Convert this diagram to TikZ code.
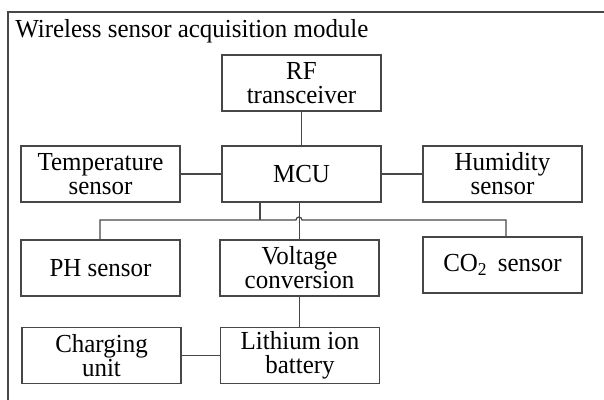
\documentclass[tikz,border=0pt]{standalone}
\usepackage{fontspec}
\setmainfont{Liberation Serif}[FakeStretch=0.96]
\begin{document}
\begin{tikzpicture}[x=0.75pt,y=-0.75pt,
  every node/.style={font=\fontsize{19.5}{18}\selectfont, text=black},
  box/.style={draw=black!72, line width=0.9pt, rectangle, minimum width=159*0.75pt, minimum height=56*0.75pt, align=center, inner sep=0pt},
  wire/.style={draw=black!72, line width=0.9pt}]
\useasboundingbox (0,0) rectangle (604,400);
% outer frame (cut at right and bottom)
\draw[wire] (8,400) -- (8,12) -- (604,12);
\node[anchor=base west, inner sep=0pt] (title) at (15,37.5) {Wireless sensor acquisition module};
% boxes
\node[box] (rf) at (301.5,83) {RF\\transceiver};
\node[box] (temp) at (100.5,174) {Temperature\\sensor};
\node[box] (mcu) at (301.5,174) {MCU};
\node[box] (hum) at (502.5,174) {Humidity\\sensor};
\node[box] (ph) at (100.5,268) {PH sensor};
\node[box] (volt) at (299.5,268) {Voltage\\conversion};
\node[box] (co2) at (502.5,265) {CO\textsubscript{2}\ \,sensor};
\node[box] (chg) at (101.5,355.5) {Charging\\unit};
\node[box] (li) at (300,355.5) {Lithium ion\\battery};
% junction coordinates
\coordinate (busL) at (100,220);
\coordinate (busR) at (506,220);
\coordinate (stub) at (260,220);
\coordinate (hopL) at (296,220);
% connectors
\draw[wire] (rf.south) -- (mcu.north);
\draw[wire] (temp.east) -- (mcu.west);
\draw[wire] (mcu.east) -- (hum.west);
\draw[wire] (mcu.south -| stub) -- (stub);
\draw[wire] (ph.north -| busL) -- (busL) -- (hopL) arc (180:360:3) -- (busR) -- (busR |- co2.north);
\draw[wire] (mcu.south -| volt.north) -- (volt.north);
\draw[wire] (volt.south) -- (volt.south |- li.north);
\draw[wire] (chg.east) -- (li.west);
\end{tikzpicture}
\end{document}
